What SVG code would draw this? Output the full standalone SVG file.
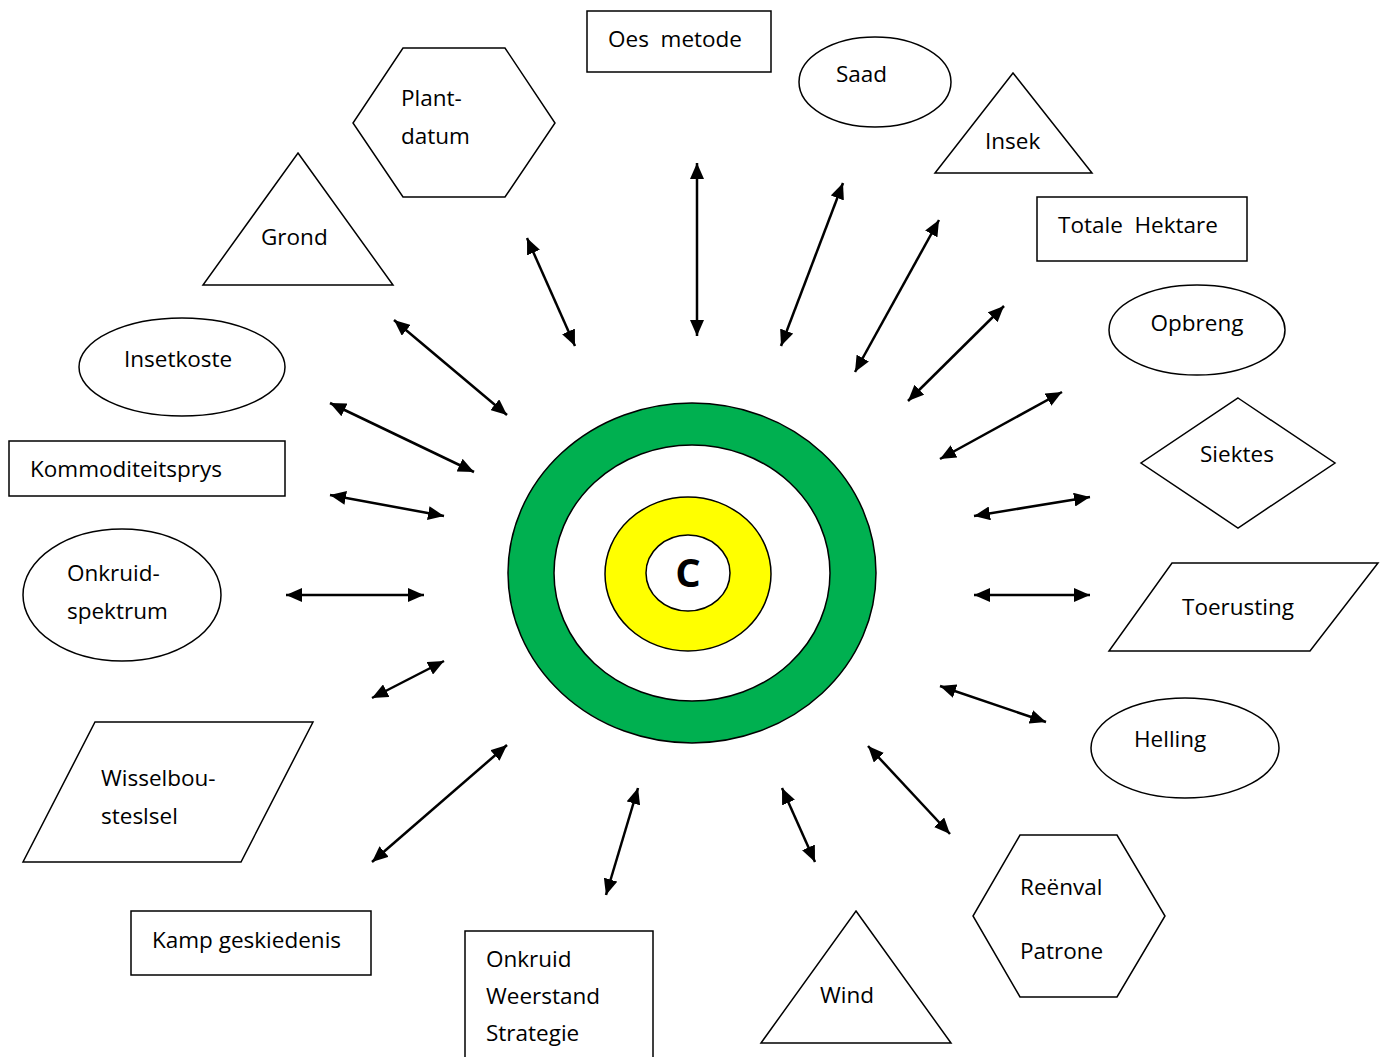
<svg xmlns="http://www.w3.org/2000/svg" width="1384" height="1057" viewBox="0 0 1384 1057">
<style>
.s{fill:#fff;stroke:#000;stroke-width:1.5}
.t{font-family:"Open Sans","Noto Sans",sans-serif;font-size:22.5px;fill:#000}
.c{stroke:#000;stroke-width:2.5;fill:none;marker-start:url(#ah);marker-end:url(#ah)}
</style>
<defs>
<marker id="ah" markerUnits="userSpaceOnUse" markerWidth="18" markerHeight="14" refX="16" refY="7" orient="auto-start-reverse">
<path d="M0,0 L16,7 L0,14 Z" fill="#000"/>
</marker>
</defs>
<rect width="1384" height="1057" fill="#fff"/>
<g id="center">
<ellipse cx="692" cy="573" rx="184" ry="170" fill="#00b050" stroke="#000" stroke-width="1.5"/>
<ellipse cx="692" cy="573" rx="138" ry="128" class="s"/>
<ellipse cx="688" cy="574" rx="83" ry="77" fill="#ffff00" stroke="#000" stroke-width="1.5"/>
<ellipse cx="688" cy="573" rx="42" ry="38" class="s"/>
<text x="688" y="587" text-anchor="middle" font-family="Open Sans, sans-serif" font-weight="bold" font-size="40">C</text>
</g>
<g id="oes"><rect x="587" y="11" width="184" height="61" class="s"/><text x="608" y="47" class="t" xml:space="preserve">Oes  metode</text></g>
<g id="saad"><ellipse cx="875" cy="82" rx="76" ry="45" class="s"/><text x="836" y="82" class="t">Saad</text></g>
<g id="insek"><polygon points="1013,73 1092,173 935,173" class="s"/><text x="985" y="149" class="t">Insek</text></g>
<g id="totale"><rect x="1037" y="197" width="210" height="64" class="s"/><text x="1058" y="233" class="t" xml:space="preserve">Totale  Hektare</text></g>
<g id="opbreng"><ellipse cx="1197" cy="330" rx="88" ry="45" class="s"/><text x="1197" y="331" class="t" text-anchor="middle">Opbreng</text></g>
<g id="siektes"><polygon points="1238,398 1335,463 1238,528 1141,463" class="s"/><text x="1200" y="462" class="t">Siektes</text></g>
<g id="toerusting"><polygon points="1172,563 1378,563 1310,651 1109,651" class="s"/><text x="1182" y="615" class="t">Toerusting</text></g>
<g id="helling"><ellipse cx="1185" cy="748" rx="94" ry="50" class="s"/><text x="1134" y="747" class="t">Helling</text></g>
<g id="reenval"><polygon points="1020,835 1117,835 1165,916 1117,997 1020,997 973,916" class="s"/><text x="1020" y="895" class="t">Reënval</text><text x="1020" y="959" class="t">Patrone</text></g>
<g id="wind"><polygon points="856,911 951,1043 761,1043" class="s"/><text x="820" y="1003" class="t">Wind</text></g>
<g id="onkruidweerstand"><rect x="465" y="931" width="188" height="140" class="s"/><text x="486" y="967" class="t">Onkruid</text><text x="486" y="1004" class="t">Weerstand</text><text x="486" y="1041" class="t">Strategie</text></g>
<g id="kamp"><rect x="131" y="911" width="240" height="64" class="s"/><text x="152" y="948" class="t">Kamp geskiedenis</text></g>
<g id="wisselbou"><polygon points="95,722 313,722 241,862 23,862" class="s"/><text x="101" y="786" class="t">Wisselbou-</text><text x="101" y="824" class="t">steslsel</text></g>
<g id="onkruidspektrum"><ellipse cx="122" cy="595" rx="99" ry="66" class="s"/><text x="67" y="581" class="t">Onkruid-</text><text x="67" y="619" class="t">spektrum</text></g>
<g id="kommoditeitsprys"><rect x="9" y="441" width="276" height="55" class="s"/><text x="30" y="477" class="t">Kommoditeitsprys</text></g>
<g id="insetkoste"><ellipse cx="182" cy="367" rx="103" ry="49" class="s"/><text x="124" y="367" class="t">Insetkoste</text></g>
<g id="grond"><polygon points="298,153 393,285 203,285" class="s"/><text x="261" y="245" class="t">Grond</text></g>
<g id="plantdatum"><polygon points="403,48 505,48 555,123 505,197 403,197 353,123" class="s"/><text x="401" y="106" class="t">Plant-</text><text x="401" y="144" class="t">datum</text></g>
<g id="connectors">
<line x1="697" y1="163" x2="697" y2="336" class="c"/>
<line x1="843" y1="183" x2="781" y2="346" class="c"/>
<line x1="939" y1="220" x2="855" y2="372" class="c"/>
<line x1="1004" y1="306" x2="908" y2="401" class="c"/>
<line x1="1062" y1="392" x2="940" y2="459" class="c"/>
<line x1="1090" y1="497" x2="974" y2="516" class="c"/>
<line x1="974" y1="595" x2="1090" y2="595" class="c"/>
<line x1="940" y1="686" x2="1046" y2="722" class="c"/>
<line x1="868" y1="746" x2="950" y2="834" class="c"/>
<line x1="782" y1="788" x2="815" y2="862" class="c"/>
<line x1="638" y1="788" x2="606" y2="895" class="c"/>
<line x1="507" y1="745" x2="372" y2="862" class="c"/>
<line x1="444" y1="661" x2="372" y2="698" class="c"/>
<line x1="286" y1="595" x2="424" y2="595" class="c"/>
<line x1="330" y1="495" x2="444" y2="516" class="c"/>
<line x1="330" y1="403" x2="474" y2="472" class="c"/>
<line x1="394" y1="320" x2="507" y2="415" class="c"/>
<line x1="527" y1="238" x2="575" y2="346" class="c"/>
</g>
</svg>
